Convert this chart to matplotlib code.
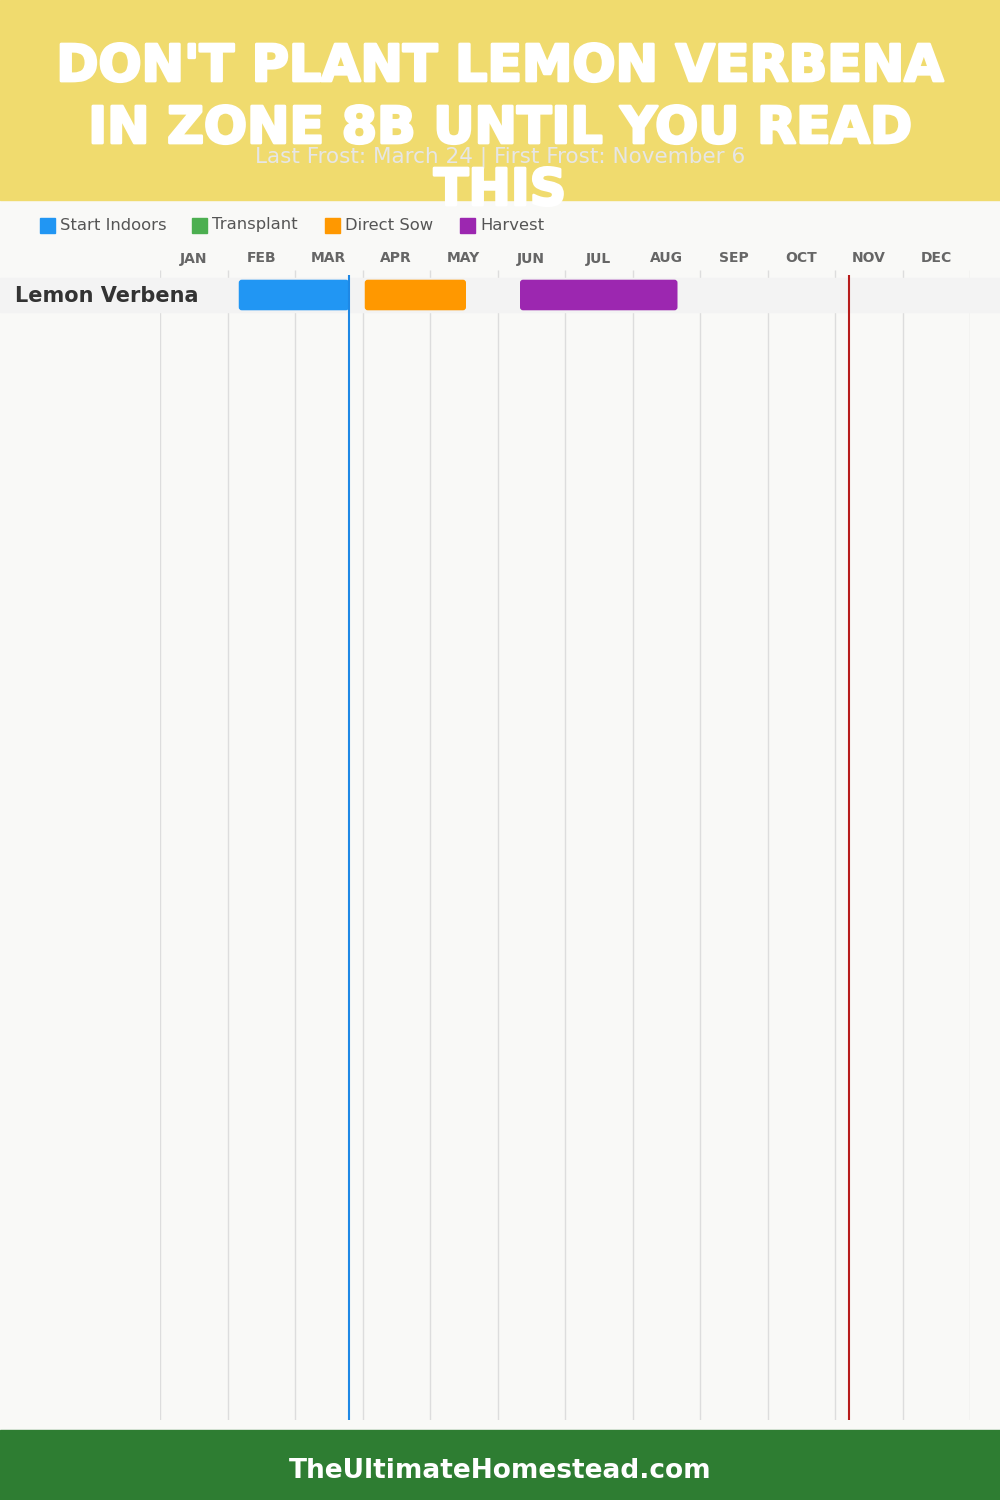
import matplotlib
matplotlib.use('Agg')
import matplotlib.pyplot as plt
import matplotlib.patheffects as pe
from matplotlib.patches import Rectangle, FancyBboxPatch
from matplotlib.transforms import blended_transform_factory

# chart data
months = ['JAN', 'FEB', 'MAR', 'APR', 'MAY', 'JUN',
          'JUL', 'AUG', 'SEP', 'OCT', 'NOV', 'DEC']
crop = 'Lemon Verbena'
legend_labels = ['Start Indoors', 'Transplant', 'Direct Sow', 'Harvest']
legend_colors = ['#2196f3', '#4caf50', '#ff9800', '#9c27b0']

# (activity, start (month, day), end (month, day))
activities = [
    ('Start Indoors', (2, 5), (3, 24)),
    ('Direct Sow', (4, 1), (5, 16)),
    ('Harvest', (6, 10), (8, 20)),
]
last_frost = (3, 24)
first_frost = (11, 6)

title_lines = ["DON'T PLANT LEMON VERBENA", "IN ZONE 8B UNTIL YOU READ", "THIS"]
subtitle = 'Last Frost: March 24 | First Frost: November 6'
footer = 'TheUltimateHomestead.com'


def mpos(md):
    return md[0] - 1 + md[1] / 30.0


W, H = 1000, 1500


def fy(px):
    return 1 - px / H


fig = plt.figure(figsize=(10, 15), dpi=100)
fig.patch.set_facecolor('#f9f9f7')

# header / footer bands
fig.patches.append(Rectangle((0, fy(200)), 1, 200 / H, transform=fig.transFigure,
                             color='#f0db6e', zorder=0))
fig.patches.append(Rectangle((0, 0), 1, 70 / H, transform=fig.transFigure,
                             color='#2e7d32', zorder=0))

row_px = 34.0
ax = fig.add_axes([160 / W, 80 / H, 810 / W, 1150 / H])
ax.set_xlim(0, 12)
ax.set_ylim(1150 / row_px - 25 / row_px, -25 / row_px)
ax.axis('off')
ax.patch.set_alpha(0)

top = -25 / row_px
bottom = ax.get_ylim()[0]

# month grid lines
ax.vlines(range(13), bottom, top, color='#dddddd', lw=1, zorder=1)

# row band across the whole width
trans = blended_transform_factory(fig.transFigure, ax.transData)
ax.add_patch(Rectangle((0, -0.5), 1, 1, transform=trans, color='#f3f3f3',
                       zorder=2, clip_on=False))
ax.text(15 / W, 0.03, crop, transform=trans, ha='left', va='center',
        fontsize=15, fontweight='bold', color='#333333', zorder=5)

# activity bars
color_map = dict(zip(legend_labels, legend_colors))
for name, start, end in activities:
    x0, x1 = mpos(start), mpos(end)
    ax.add_patch(FancyBboxPatch((x0, -0.45), x1 - x0, 0.9,
                                boxstyle='round,pad=0,rounding_size=0.045',
                                mutation_aspect=2.0,
                                facecolor=color_map[name], edgecolor='none',
                                zorder=3))

# frost lines
ax.vlines(mpos(last_frost), bottom, -20 / row_px, color='#1e88e5', lw=1.5, zorder=4)
ax.vlines(mpos(first_frost), bottom, -20 / row_px, color='#b71c1c', lw=1.5, zorder=4)

# month labels
mtrans = blended_transform_factory(ax.transData, fig.transFigure)
for i, m in enumerate(months):
    ax.text(i + 0.5, fy(258.5), m, transform=mtrans, ha='center', va='center',
            fontsize=10, fontweight='bold', color='#666666', clip_on=False)

# legend
lx = [40, 192, 325, 460]
for x, lab, col in zip(lx, legend_labels, legend_colors):
    fig.patches.append(Rectangle((x / W, fy(232.5)), 15 / W, 15 / H,
                                 transform=fig.transFigure, color=col, zorder=3))
    fig.text((x + 20) / W, fy(225), lab, ha='left', va='center',
             fontsize=11.8, color='#555555')

# title
for i, line in enumerate(title_lines):
    fig.text(0.5, fy(81 + 62 * i), line, ha='center', va='baseline',
             fontsize=36.5, fontweight='bold', color='white', zorder=10,
             path_effects=[pe.withStroke(linewidth=2, foreground='white')])
fig.text(0.5, fy(162), subtitle, ha='center', va='baseline',
         fontsize=15.5, color='#e6e6e6', zorder=9)

fig.text(0.5, fy(1471), footer, ha='center', va='center',
         fontsize=19, fontweight='bold', color='white')

fig.savefig('out.png', dpi=100, facecolor=fig.get_facecolor())
